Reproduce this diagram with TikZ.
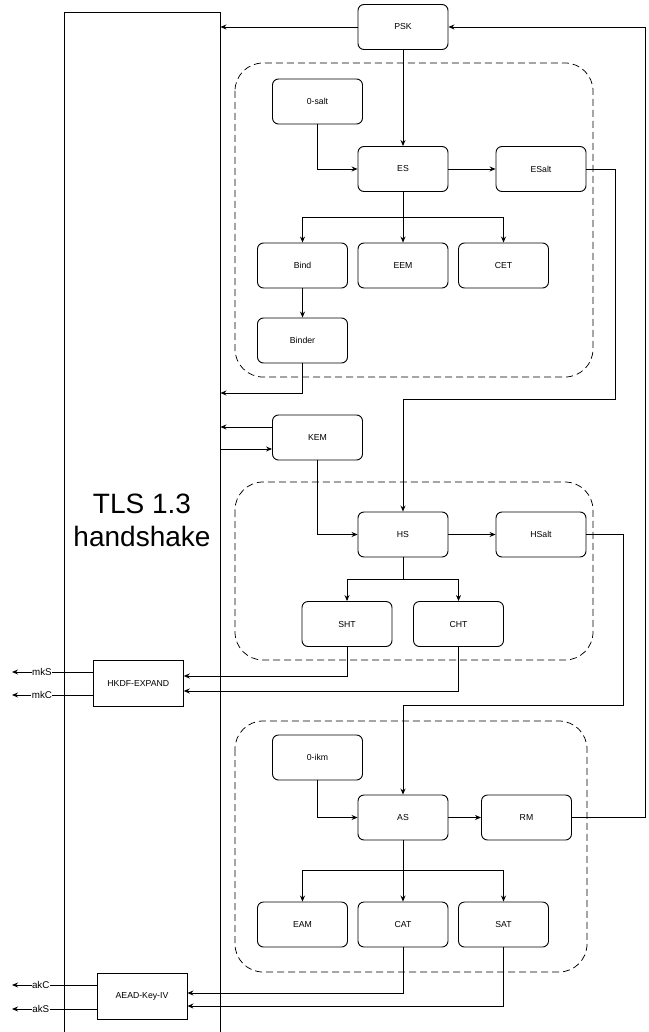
\documentclass[tikz,border=0pt]{standalone}
\usepackage{fontspec}
\setmainfont{Liberation Sans}
\usetikzlibrary{arrows.meta}
\begin{document}
\begin{tikzpicture}[x=1pt,y=-1pt,
  line width=0.9pt,
  box/.style={draw, rounded corners=6pt, minimum width=90pt, minimum height=45pt, inner sep=0pt, font=\fontsize{8.7}{10}\selectfont},
  sqbox/.style={draw, minimum width=90pt, minimum height=46pt, inner sep=0pt, font=\fontsize{8.7}{10}\selectfont},
  group/.style={draw, dashed, dash pattern=on 7pt off 4pt, line width=0.75pt, rounded corners=28pt},
  arr/.style={-{Stealth[length=6pt,width=5pt]}},
  lbl/.style={fill=white, inner sep=0.5pt, font=\fontsize{9.8}{11}\selectfont}]
\useasboundingbox (0,0) rectangle (648,1032);
\fill[white] (0,0) rectangle (648,1032);

% big TLS block
\node[draw, minimum width=156pt, minimum height=1040pt, inner sep=0pt, anchor=north] (tls) at (142,12) {};
\node[font=\fontsize{28}{33}\selectfont, align=center] (tlst) at (142,520) {TLS 1.3\\handshake};

% groups
\draw[group] (235,63) rectangle (593,377);
\draw[group] (235,482) rectangle (593,660);
\draw[group] (235,721) rectangle (587,972);

% nodes
\node[box] (psk) at (403,27) {PSK};
\node[box] (salt0) at (317.5,101.5) {0-salt};
\node[box] (es) at (403,169) {ES};
\node[box] (esalt) at (541,169) {ESalt};
\node[box] (bind) at (302.5,265.5) {Bind};
\node[box] (eem) at (403,265.5) {EEM};
\node[box] (cet) at (503.5,265.5) {CET};
\node[box] (binder) at (302.5,340.5) {Binder};
\node[box] (kem) at (317.5,437.5) {KEM};
\node[box] (hs) at (403,534.5) {HS};
\node[box] (hsalt) at (541,534.5) {HSalt};
\node[box] (sht) at (347,624) {SHT};
\node[box] (cht) at (458.5,624) {CHT};
\node[sqbox] (hkdf) at (138.3,683) {HKDF-EXPAND};
\node[box] (ikm0) at (317.5,757.5) {0-ikm};
\node[box] (as) at (403,817.5) {AS};
\node[box] (rm) at (526.5,817.5) {RM};
\node[box] (eam) at (302.5,924.5) {EAM};
\node[box] (cat) at (403,924.5) {CAT};
\node[box] (sat) at (503.5,924.5) {SAT};
\node[sqbox] (aead) at (142,996.5) {AEAD-Key-IV};

% helper coordinates
\coordinate (rx) at (645,0);
\coordinate (ex) at (615,399);
\coordinate (hx) at (623,705);
\coordinate (esb) at (0,217);
\coordinate (hsb) at (0,579);
\coordinate (asb) at (0,870);
\coordinate (mks) at (12,672);
\coordinate (mkc) at (12,695);
\coordinate (akc) at (12,985);
\coordinate (aks) at (12,1009);

% connectors
\draw[arr] (psk.west) -- (psk.west -| tls.east);
\draw[arr] (rm.east) -- (rm.east -| rx) |- (psk.east);
\draw[arr] (psk.south) -- (es.north);
\draw[arr] (salt0.south) |- (es.west);
\draw[arr] (es.east) -- (esalt.west);
\draw[arr] (esalt.east) -| (ex) -| (hs.north);
\draw[arr] (es.south) |- (es.south |- esb) -| (bind.north);
\draw[arr] (es.south) -- (eem.north);
\draw[arr] (es.south |- esb) -| (cet.north);
\draw[arr] (bind.south) -- (binder.north);
\draw[arr] (binder.south) |- (tls.east |- 0,393);
\draw[arr] (kem.west |- 0,427) -- (tls.east |- 0,427);
\draw[arr] (tls.east |- 0,449) -- (kem.west |- 0,449);
\draw[arr] (kem.south) |- (hs.west);
\draw[arr] (hs.east) -- (hsalt.west);
\draw[arr] (hsalt.east) -| (hx) -| (as.north);
\draw[arr] (hs.south) |- (hs.south |- hsb) -| (sht.north);
\draw[arr] (hs.south |- hsb) -| (cht.north);
\draw[arr] (sht.south) |- (hkdf.east |- 0,676);
\draw[arr] (cht.south) |- (hkdf.east |- 0,691);
\draw[arr] (hkdf.west |- mks) -- node[lbl,pos=0.63]{mkS} (mks);
\draw[arr] (hkdf.west |- mkc) -- node[lbl,pos=0.63]{mkC} (mkc);
\draw[arr] (ikm0.south) |- (as.west);
\draw[arr] (as.east) -- (rm.west);
\draw[arr] (as.south) |- (as.south |- asb) -| (eam.north);
\draw[arr] (as.south) -- (cat.north);
\draw[arr] (as.south |- asb) -| (sat.north);
\draw[arr] (cat.south) |- (aead.east |- 0,993);
\draw[arr] (sat.south) |- (aead.east |- 0,1006);
\draw[arr] (aead.west |- akc) -- node[lbl,pos=0.66]{akC} (akc);
\draw[arr] (aead.west |- aks) -- node[lbl,pos=0.66]{akS} (aks);
\end{tikzpicture}
\end{document}
